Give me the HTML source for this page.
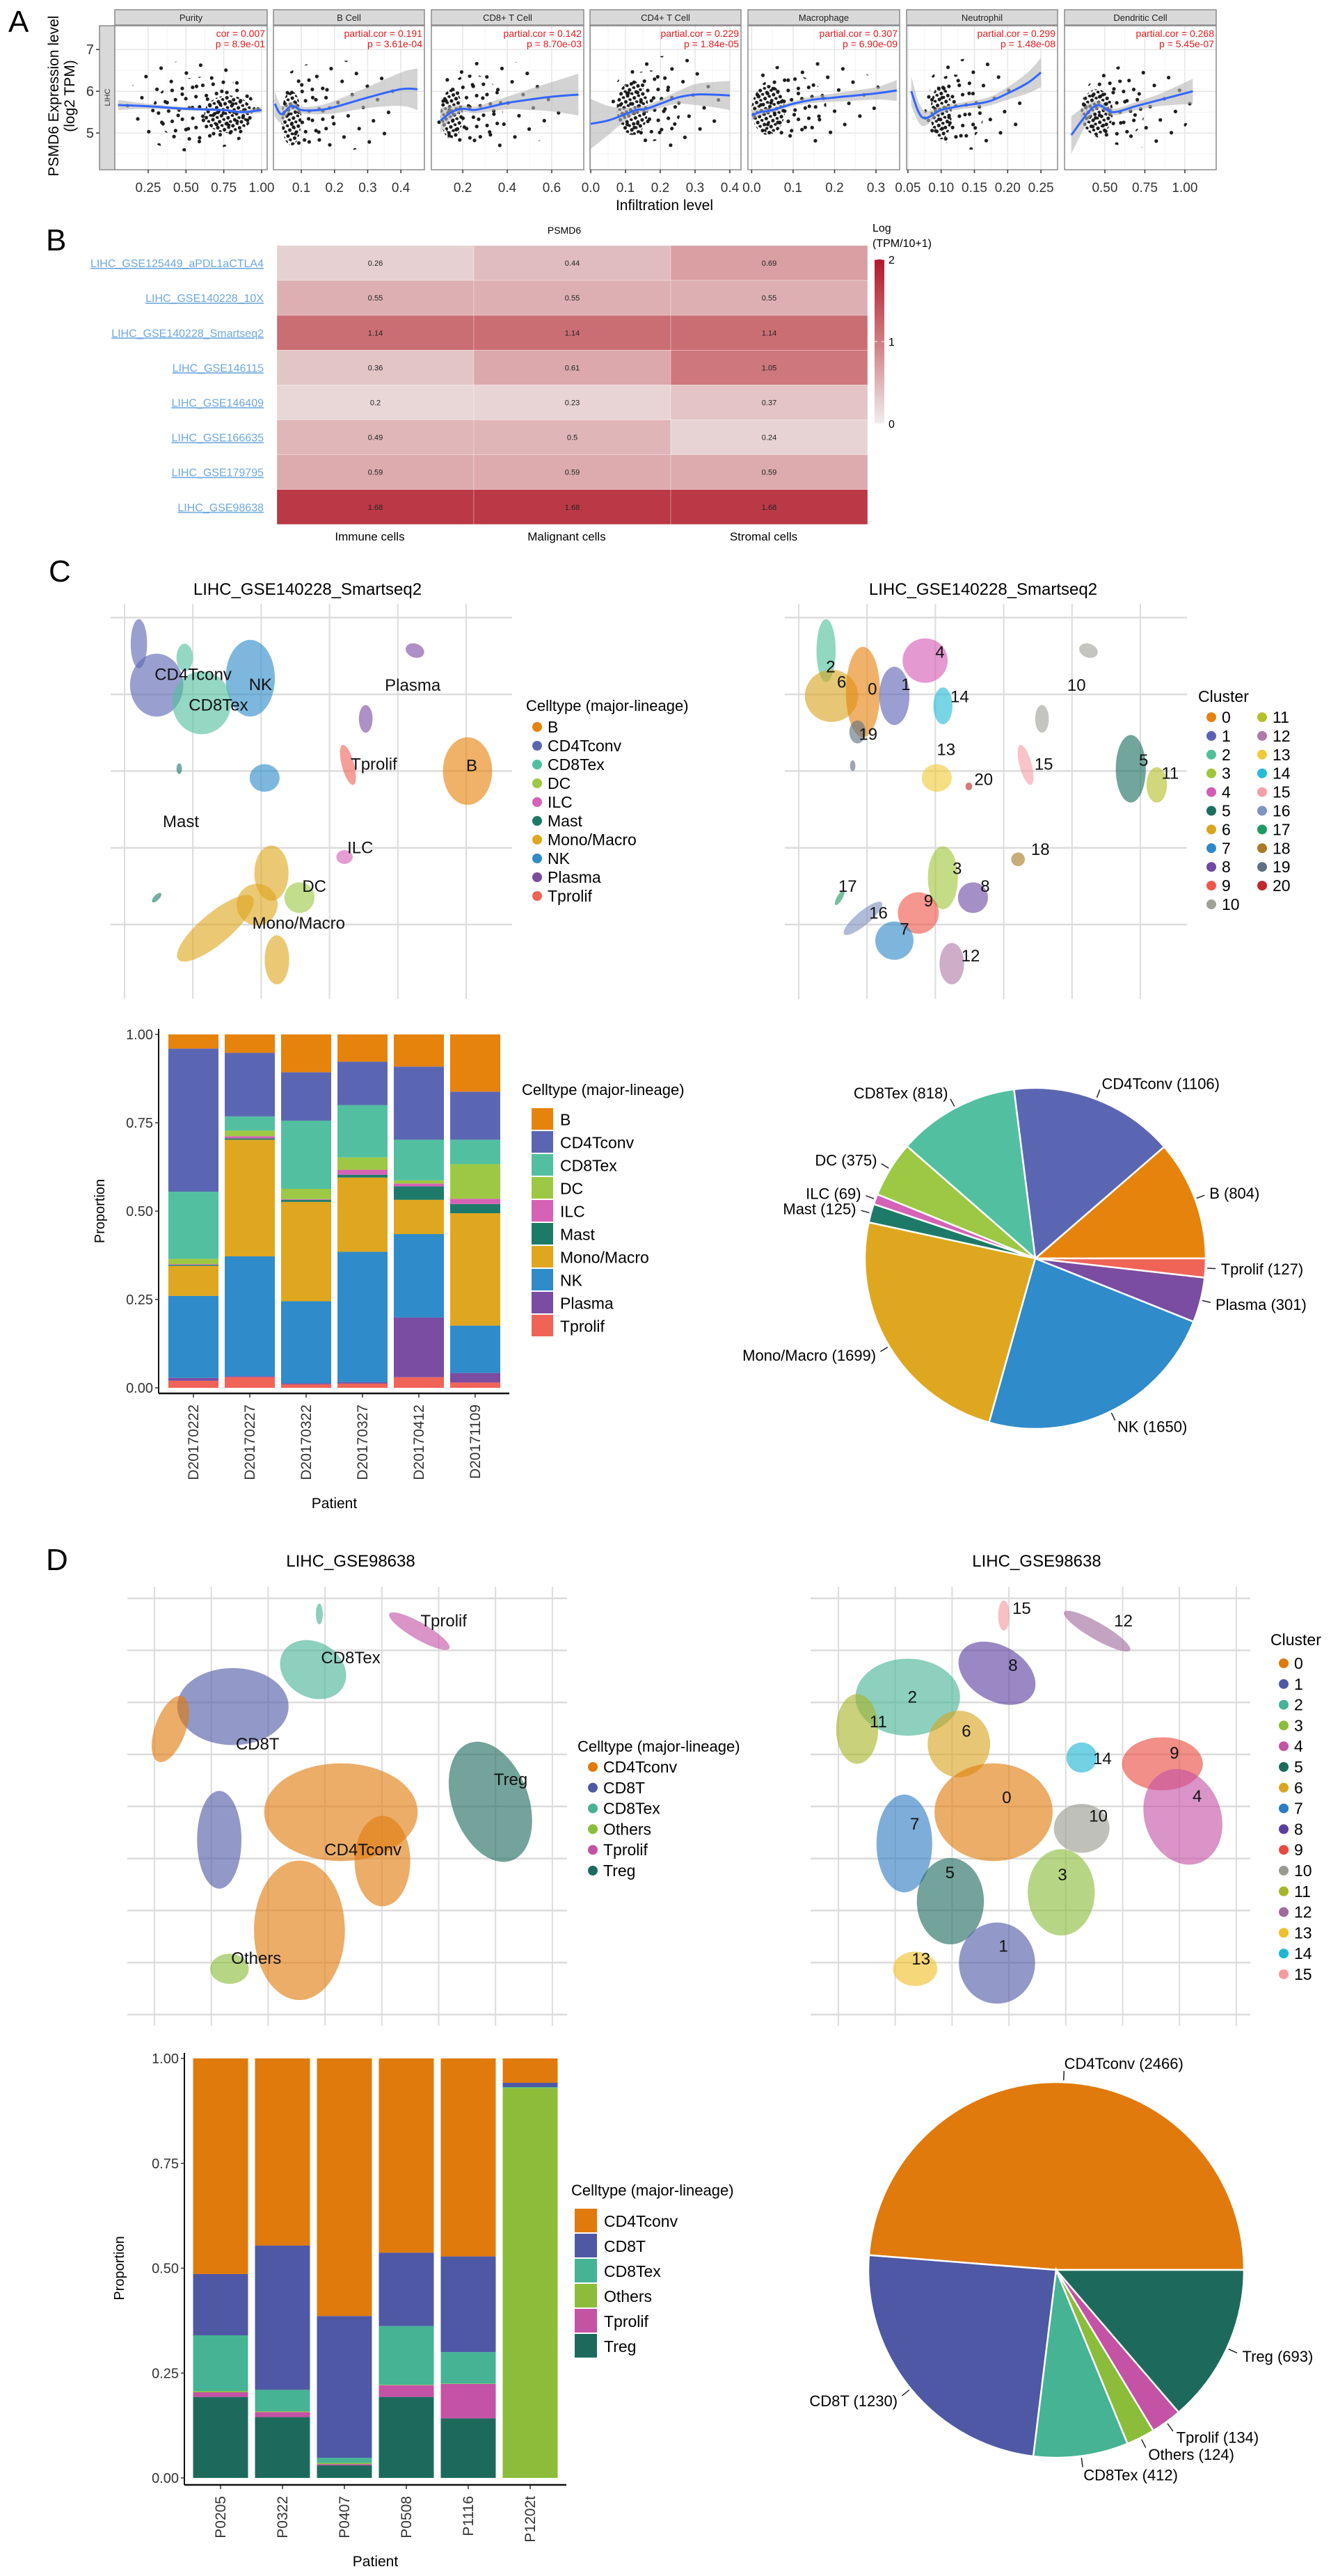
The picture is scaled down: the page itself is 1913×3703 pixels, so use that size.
<!DOCTYPE html>
<html><head><meta charset="utf-8"><title>PSMD6 figure</title>
<style>
html,body{margin:0;padding:0;background:#fff;}
svg{display:block;font-family:"Liberation Sans",Arial,sans-serif;}
</style></head>
<body>
<svg id="fig" width="1913" height="3703" viewBox="0 0 1913 3703" xmlns="http://www.w3.org/2000/svg">
<defs>
<pattern id="dotsDense" width="10" height="9" patternUnits="userSpaceOnUse" patternTransform="rotate(17)"><circle cx="3" cy="3" r="2.6" fill="#1c1c1c"/><circle cx="8" cy="7.5" r="2.4" fill="#1c1c1c"/></pattern>
<pattern id="dotsSparse" width="23" height="19" patternUnits="userSpaceOnUse" patternTransform="rotate(31)"><circle cx="3" cy="3" r="2.6" fill="#1c1c1c"/><circle cx="14" cy="12" r="2.6" fill="#1c1c1c"/></pattern>
<pattern id="dotsFaint" width="37" height="31" patternUnits="userSpaceOnUse" patternTransform="rotate(11)"><circle cx="5" cy="6" r="2.6" fill="#1c1c1c"/><circle cx="24" cy="21" r="2.6" fill="#1c1c1c"/></pattern>
<linearGradient id="hmGrad" x1="0" y1="1" x2="0" y2="0"><stop offset="0" stop-color="#f0eeee"/><stop offset="0.5" stop-color="#cf7c80"/><stop offset="1" stop-color="#b2182b"/></linearGradient>
</defs>
</svg>
<script>
// ---------------- DATA ----------------
// Panel A
const aTitles=['Purity','B Cell','CD8+ T Cell','CD4+ T Cell','Macrophage','Neutrophil','Dendritic Cell'];
const aStat1=['cor = 0.007','partial.cor = 0.191','partial.cor = 0.142','partial.cor = 0.229','partial.cor = 0.307','partial.cor = 0.299','partial.cor = 0.268'];
const aStat2=['p = 8.9e-01','p = 3.61e-04','p = 8.70e-03','p = 1.84e-05','p = 6.90e-09','p = 1.48e-08','p = 5.45e-07'];
const aTickVals=[[0.25,0.5,0.75,1.0],[0.1,0.2,0.3,0.4],[0.2,0.4,0.6],[0.0,0.1,0.2,0.3,0.4],[0.0,0.1,0.2,0.3],[0.05,0.10,0.15,0.20,0.25],[0.50,0.75,1.00]];
const aTickLabels=[['0.25','0.50','0.75','1.00'],['0.1','0.2','0.3','0.4'],['0.2','0.4','0.6'],['0.0','0.1','0.2','0.3','0.4'],['0.0','0.1','0.2','0.3'],['0.05','0.10','0.15','0.20','0.25'],['0.50','0.75','1.00']];
const aDomain=[[0.029,1.037],[0.016,0.471],[0.059,0.744],[-0.002,0.432],[-0.009,0.357],[0.048,0.275],[0.248,1.196]];
const aYTicks=[5,6,7];
const aLoX=[[0.05,0.25,0.5,0.75,0.87,1.0],[0.02,0.04,0.07,0.1,0.15,0.2,0.3,0.4,0.45],[0.1,0.15,0.2,0.25,0.3,0.4,0.5,0.6,0.72],[0.0,0.05,0.1,0.13,0.16,0.2,0.25,0.3,0.35,0.4],[0.0,0.02,0.05,0.1,0.15,0.2,0.3,0.35],[0.055,0.072,0.1,0.13,0.17,0.2,0.23,0.25],[0.29,0.44,0.55,0.7,0.85,1.05]];
const aLoY=[[5.67,5.64,5.58,5.55,5.5,5.55],[5.7,5.45,5.65,5.55,5.55,5.62,5.85,6.05,6.05],[5.3,5.5,5.58,5.55,5.6,5.72,5.8,5.87,5.92],[5.22,5.3,5.45,5.55,5.58,5.7,5.85,5.92,5.92,5.9],[5.42,5.5,5.55,5.7,5.8,5.85,5.95,6.02],[6.0,5.37,5.55,5.65,5.75,5.95,6.2,6.45],[4.95,5.65,5.5,5.65,5.8,6.0]];
const aBand=[[0.12,0.06,0.04,0.03,0.04,0.07],[0.3,0.2,0.1,0.08,0.1,0.15,0.25,0.4,0.5],[0.3,0.15,0.08,0.08,0.1,0.15,0.25,0.35,0.5],[0.6,0.35,0.15,0.08,0.08,0.1,0.15,0.25,0.3,0.35],[0.12,0.08,0.06,0.06,0.08,0.1,0.15,0.25],[0.35,0.2,0.08,0.08,0.1,0.15,0.25,0.35],[0.45,0.12,0.08,0.1,0.15,0.3]];
const aCloudCore=[[0.78,5.45,0.16,0.45],[0.07,5.35,0.03,0.65],[0.15,5.45,0.05,0.6],[0.12,5.6,0.045,0.65],[0.04,5.55,0.04,0.6],[0.1,5.5,0.016,0.65],[0.45,5.5,0.1,0.55]];
const aCloudHalo=[[0.62,5.55,0.34,0.8],[0.12,5.5,0.08,0.85],[0.24,5.55,0.14,0.85],[0.17,5.65,0.09,0.85],[0.09,5.65,0.09,0.75],[0.12,5.55,0.045,0.85],[0.55,5.55,0.2,0.75]];
const aCloudFaint=[[0.55,5.65,0.45,1.1],[0.2,5.65,0.2,1.1],[0.35,5.65,0.3,1.1],[0.22,5.75,0.16,1.1],[0.15,5.75,0.17,1.0],[0.15,5.7,0.08,1.1],[0.7,5.65,0.35,1.0]];

// Panel B heatmap
const hmRows=['LIHC_GSE125449_aPDL1aCTLA4','LIHC_GSE140228_10X','LIHC_GSE140228_Smartseq2','LIHC_GSE146115','LIHC_GSE146409','LIHC_GSE166635','LIHC_GSE179795','LIHC_GSE98638'];
const hmCols=['Immune cells','Malignant cells','Stromal cells'];
const hmVals=[[0.26,0.44,0.69],[0.55,0.55,0.55],[1.14,1.14,1.14],[0.36,0.61,1.05],[0.2,0.23,0.37],[0.49,0.5,0.24],[0.59,0.59,0.59],[1.68,1.68,1.68]];
const hmLabels=[['0.26','0.44','0.69'],['0.55','0.55','0.55'],['1.14','1.14','1.14'],['0.36','0.61','1.05'],['0.2','0.23','0.37'],['0.49','0.5','0.24'],['0.59','0.59','0.59'],['1.68','1.68','1.68']];

// Panel C
const cTypes=['B','CD4Tconv','CD8Tex','DC','ILC','Mast','Mono/Macro','NK','Plasma','Tprolif'];
const cColors=['#e6830c','#5b66b3','#52c0a0','#9dc844','#d562b6','#1e7a68','#dfa71f','#2f8bc9','#7a4ca2','#f06458'];
const cClusterColors=['#e6820e','#5c62b3','#4fbf9a','#9fc63b','#d45bb5','#1b6e5d','#d9a521','#2e87c8','#6e4aa5','#f0574a','#a0a09a','#b5bf2a','#b07aa8','#f0c93a','#26bcd6','#f5a0a8','#7f92c0','#1f9a63','#a87a25','#5f7080','#c0282a'];
const cTypeBlobs=[[0.21,3.66,0.12,0.32,1,0],[0.47,3.12,0.39,0.41,1,0],[1.84,3.21,0.36,0.5,7,0],[1.13,2.89,0.43,0.41,2,0],[0.88,3.48,0.12,0.18,2,0],[2.05,1.91,0.22,0.18,7,0],[0.8,2.03,0.04,0.07,5,0],[0.47,0.35,0.04,0.08,5,-45],[4.25,3.57,0.14,0.09,8,-20],[3.53,2.68,0.1,0.18,8,0],[3.27,2.08,0.09,0.27,9,15],[5.02,2.0,0.36,0.44,0,0],[3.22,0.88,0.12,0.09,4,0],[2.15,0.67,0.25,0.36,6,0],[1.33,-0.05,0.71,0.2,6,40],[2.23,-0.46,0.18,0.32,6,0],[1.94,0.26,0.3,0.27,6,0],[2.56,0.35,0.22,0.2,3,0]];
const cTypeLabelText=['CD4Tconv','NK','CD8Tex','Plasma','Tprolif','B','Mast','ILC','DC','Mono/Macro'];
const cTypeLabelPos=[[0.44,3.26],[1.82,3.13],[0.94,2.86],[3.81,3.12],[3.31,2.09],[5.0,2.07],[0.56,1.34],[3.26,1.0],[2.6,0.5],[1.87,0.02]];
const cClusterBlobs=[[0.4,3.57,0.14,0.41,2,0],[0.48,2.98,0.39,0.34,6,0],[0.94,3.03,0.25,0.59,0,0],[1.4,2.98,0.22,0.38,1,0],[1.85,3.44,0.33,0.29,4,0],[2.11,2.85,0.14,0.24,14,0],[0.86,2.51,0.12,0.15,19,0],[4.24,3.57,0.14,0.09,10,-20],[3.56,2.68,0.1,0.18,10,0],[3.32,2.08,0.09,0.27,15,15],[2.02,1.91,0.22,0.18,13,0],[2.49,1.8,0.05,0.05,20,0],[4.86,2.03,0.22,0.44,5,0],[5.24,1.82,0.15,0.23,11,0],[0.79,2.07,0.04,0.07,19,0],[3.21,0.85,0.1,0.09,18,0],[2.11,0.61,0.22,0.41,3,0],[2.55,0.35,0.22,0.2,8,0],[1.75,0.15,0.3,0.27,9,0],[1.4,-0.21,0.28,0.25,7,0],[0.94,0.08,0.36,0.09,16,40],[0.6,0.35,0.04,0.11,17,-30],[2.24,-0.51,0.18,0.27,12,0]];
const cClusterLabelText=['2','6','0','1','4','14','19','10','13','20','15','5','11','18','3','8','17','9','16','7','12'];
const cClusterLabelPos=[[0.4,3.36],[0.56,3.16],[1.01,3.07],[1.5,3.13],[2.0,3.55],[2.22,2.97],[0.88,2.48],[3.93,3.12],[2.02,2.28],[2.57,1.89],[3.45,2.09],[4.98,2.14],[5.31,1.97],[3.4,0.98],[2.25,0.73],[2.66,0.5],[0.58,0.5],[1.83,0.31],[1.03,0.15],[1.48,-0.06],[2.38,-0.41]];
const cPatients=['D20170222','D20170227','D20170322','D20170327','D20170412','D20171109'];
const cProps=[
 [0.04,0.405,0.19,0.015,0.002,0.003,0.085,0.232,0.008,0.02],
 [0.052,0.18,0.04,0.016,0.006,0.004,0.33,0.339,0.003,0.03],
 [0.107,0.137,0.193,0.029,0.002,0.006,0.281,0.232,0.003,0.01],
 [0.077,0.123,0.148,0.035,0.014,0.008,0.21,0.369,0.004,0.012],
 [0.091,0.207,0.115,0.009,0.008,0.038,0.097,0.236,0.169,0.03],
 [0.162,0.136,0.069,0.098,0.015,0.026,0.318,0.134,0.027,0.015]];
const cYTicks=[0,0.25,0.5,0.75,1];
const cYTickLabels=['0.00','0.25','0.50','0.75','1.00'];
const cPieCounts=[804,1106,818,375,69,125,1699,1650,301,127];

// Panel D
const dTypes=['CD4Tconv','CD8T','CD8Tex','Others','Tprolif','Treg'];
const dColors=['#e07a0d','#4f58a5','#45b394','#8bbd3a','#c452a5','#1d6a5c'];
const dClusterColors=['#e07a0d','#4f58a5','#45b394','#8bbd3a','#c452a5','#1d6a5c','#d9a521','#2e7bc4','#5b3fa0','#e84a3f','#9a9a92','#a8b52a','#a06a9c','#f0c02a','#1ab6d2','#f59aa0'];
const dTypeBlobs=[[1.38,5.92,0.98,0.74,1,0],[0.28,5.49,0.27,0.67,0,-20],[2.79,6.63,0.61,0.53,2,-30],[2.9,7.7,0.06,0.2,2,0],[4.66,7.37,0.61,0.16,4,-30],[5.91,4.09,0.67,1.2,5,20],[1.14,3.36,0.39,0.94,1,0],[3.28,3.89,1.35,0.94,0,0],[2.55,1.62,0.8,1.34,0,0],[4.01,2.95,0.49,0.87,0,0],[1.32,0.88,0.34,0.29,3,0]];
const dTypeLabelText=['Tprolif','CD8Tex','CD8T','Treg','CD4Tconv','Others'];
const dTypeLabelPos=[[4.68,7.57],[2.93,6.86],[1.43,5.2],[5.97,4.52],[2.99,3.17],[1.35,1.08]];
const dClusterBlobs=[[2.91,7.67,0.1,0.29,15,0],[4.55,7.37,0.67,0.16,12,-30],[2.79,6.56,0.73,0.53,8,-30],[1.22,6.1,0.92,0.74,2,0],[0.33,5.49,0.37,0.67,11,0],[2.12,5.2,0.55,0.64,6,0],[4.28,4.94,0.27,0.29,14,0],[5.7,4.82,0.71,0.51,9,0],[6.06,3.8,0.67,0.94,4,20],[2.73,3.89,1.04,0.94,0,0],[4.28,3.58,0.49,0.47,10,0],[1.16,3.29,0.49,0.94,7,0],[3.92,2.35,0.59,0.83,3,0],[1.97,2.18,0.59,0.83,5,0],[2.79,0.99,0.67,0.78,1,0],[1.35,0.88,0.39,0.33,13,0]];
const dClusterLabelText=['15','12','8','2','11','6','14','9','0','10','4','7','3','5','1','13'];
const dClusterLabelPos=[[3.06,7.81],[4.85,7.57],[2.99,6.71],[1.22,6.1],[0.55,5.63],[2.17,5.45],[4.48,4.92],[5.83,5.03],[2.88,4.17],[4.41,3.82],[6.23,4.2],[1.26,3.66],[3.86,2.69],[1.88,2.73],[2.82,1.32],[1.29,1.07]];
const dPatients=['P0205','P0322','P0407','P0508','P1116','P1202t'];
const dProps=[
 [0.514,0.146,0.133,0.003,0.011,0.193],
 [0.446,0.344,0.051,0.002,0.012,0.145],
 [0.614,0.338,0.012,0.003,0.003,0.03],
 [0.463,0.175,0.14,0.001,0.028,0.193],
 [0.472,0.228,0.075,0.001,0.082,0.142],
 [0.058,0.01,0.002,0.93,0.0,0.0]];
const dPieCounts=[2466,1230,412,124,134,693];

// ---------------- HELPERS ----------------
const NS='http://www.w3.org/2000/svg';
const svg=document.getElementById('fig');
const NARROW='"Liberation Sans Narrow","Liberation Sans",Arial,sans-serif';
function mk(tag,attrs,parent){const e=document.createElementNS(NS,tag);for(const k in attrs)e.setAttribute(k,attrs[k]);(parent||svg).appendChild(e);return e;}
function tx(x,y,s,attrs,parent){const e=mk('text',Object.assign({x:x,y:y},attrs||{}),parent);e.textContent=s;return e;}
function lin(d0,d1,r0,r1){return v=>r0+(v-d0)/(d1-d0)*(r1-r0);}
function smooth(pts){let d='M'+pts[0][0]+','+pts[0][1];for(let i=0;i<pts.length-1;i++){const p0=pts[i-1]||pts[i],p1=pts[i],p2=pts[i+1],p3=pts[i+2]||p2;d+=' C'+(p1[0]+(p2[0]-p0[0])/6)+','+(p1[1]+(p2[1]-p0[1])/6)+' '+(p2[0]-(p3[0]-p1[0])/6)+','+(p2[1]-(p3[1]-p1[1])/6)+' '+p2[0]+','+p2[1];}return d;}
function hexMix(a,b,t){const pa=[1,3,5].map(i=>parseInt(a.substr(i,2),16)),pb=[1,3,5].map(i=>parseInt(b.substr(i,2),16));return 'rgb('+pa.map((v,i)=>Math.round(v+(pb[i]-v)*t)).join(',')+')';}
function hmColor(v){return v<=1?hexMix('#f0eeee','#cf7c80',Math.max(0,v)):hexMix('#cf7c80','#b2182b',Math.min(1,v-1));}
let e;

// ---------------- PANEL A ----------------
e=tx(12,46,'A',{'font-size':44});


const aPanelPx=[[165,384],[393,610],[620,839],[848,1065],[1075,1293],[1303,1520],[1530,1748]];
const aTop=37,aBot=244;
const ysA=lin(4.12,7.57,aBot,aTop);
e=mk('rect',{x:143,y:aTop,width:22,height:aBot-aTop,fill:'#d9d9d9',stroke:'#8a8a8a','stroke-width':1.5});


e=tx(0,0,'LIHC',{'font-size':11,'text-anchor':'middle',transform:'translate(158,140) rotate(-90)',fill:'#333'});


aYTicks.forEach(v=>{
  e=mk('line',{x1:138,x2:143,y1:ysA(v),y2:ysA(v),stroke:'#333','stroke-width':1.5});
  
  
  e=tx(135,ysA(v)+7,String(v),{'font-size':20,'text-anchor':'end',fill:'#333'});
  
  
});
e=tx(0,0,'PSMD6 Expression level',{'font-size':21,'text-anchor':'middle',transform:'translate(84,138) rotate(-90)'});


e=tx(0,0,'(log2 TPM)',{'font-size':21,'text-anchor':'middle',transform:'translate(107,138) rotate(-90)'});


e=tx(955,302,'Infiltration level',{'font-size':21,'text-anchor':'middle','font-family':NARROW});


aTitles.forEach((t,i)=>{
  const [p0,p1]=aPanelPx[i];
  const xs=lin(aDomain[i][0],aDomain[i][1],p0,p1);
  const g=mk('g',{});
  
  
  const cp=mk('clipPath',{id:'clipA'+i},g);
  mk('rect',{x:p0,y:aTop,width:p1-p0,height:aBot-aTop},cp);
  e=mk('rect',{x:p0,y:aTop,width:p1-p0,height:aBot-aTop,fill:'#fff'},g);
  
  
  const tv=aTickVals[i];
  for(let k=0;k<tv.length;k++){
    if(k<tv.length-1){const mid=(tv[k]+tv[k+1])/2;mk('line',{x1:xs(mid),x2:xs(mid),y1:aTop,y2:aBot,stroke:'#f3f3f3','stroke-width':1},g);}
    e=mk('line',{x1:xs(tv[k]),x2:xs(tv[k]),y1:aTop,y2:aBot,stroke:'#e6e6e6','stroke-width':1.5},g);
    
    
  }
  [4.5,5.5,6.5].forEach(v=>mk('line',{x1:p0,x2:p1,y1:ysA(v),y2:ysA(v),stroke:'#f3f3f3','stroke-width':1},g));
  aYTicks.forEach(v=>{e=mk('line',{x1:p0,x2:p1,y1:ysA(v),y2:ysA(v),stroke:'#e6e6e6','stroke-width':1.5},g);
    
    });
  const cg=mk('g',{'clip-path':'url(#clipA'+i+')'},g);
  [[aCloudFaint[i],'url(#dotsFaint)'],[aCloudHalo[i],'url(#dotsSparse)'],[aCloudCore[i],'url(#dotsDense)']].forEach(([c,f])=>{
    e=mk('ellipse',{cx:xs(c[0]),cy:ysA(c[1]),rx:Math.abs(xs(c[0]+c[2])-xs(c[0])),ry:Math.abs(ysA(c[1]+c[3])-ysA(c[1])),fill:f},cg);
    
    
  });
  const up=aLoX[i].map((x,k)=>[xs(x),ysA(aLoY[i][k]+aBand[i][k])]);
  const lo=aLoX[i].map((x,k)=>[xs(x),ysA(aLoY[i][k]-aBand[i][k])]).reverse();
  e=mk('path',{d:smooth(up)+' L'+smooth(lo).slice(1)+' Z',fill:'#b5b5b5','fill-opacity':0.6},cg);
  
  
  e=mk('path',{d:smooth(aLoX[i].map((x,k)=>[xs(x),ysA(aLoY[i][k])])),fill:'none',stroke:'#3366ff','stroke-width':3},cg);
  
  
  e=mk('rect',{x:p0,y:aTop,width:p1-p0,height:aBot-aTop,fill:'none',stroke:'#8a8a8a','stroke-width':1.5},g);
  
  
  e=mk('rect',{x:p0,y:14,width:p1-p0,height:22,fill:'#d9d9d9',stroke:'#8a8a8a','stroke-width':1.5},g);
  
  
  e=tx((p0+p1)/2,30,t,{'font-size':13,'text-anchor':'middle',fill:'#222','font-family':NARROW},g);
  
  
  e=tx(p1-3,53,aStat1[i],{'font-size':14,'text-anchor':'end',fill:'#e41a1c','font-family':NARROW},g);
  
  
  e=tx(p1-3,68,aStat2[i],{'font-size':14,'text-anchor':'end',fill:'#e41a1c','font-family':NARROW},g);
  
  
  tv.forEach((v,k)=>{
    e=mk('line',{x1:xs(v),x2:xs(v),y1:aBot,y2:aBot+5,stroke:'#333','stroke-width':1.5},g);
    
    
    e=tx(xs(v),276,aTickLabels[i][k],{'font-size':19,'text-anchor':'middle',fill:'#333','font-family':NARROW},g);
    
    
  });
});

// ---------------- PANEL B ----------------
e=tx(66,360,'B',{'font-size':44});


e=tx(811,336,'PSMD6',{'font-size':14,'text-anchor':'middle'});


const hmX0=398,hmY0=353,hmW=283,hmH=50.1;
hmRows.forEach((r,i)=>{
  e=tx(379,hmY0+hmH*i+hmH/2+6,r,{'font-size':16,'text-anchor':'end',fill:'#6fa8dc','text-decoration':'underline','font-family':NARROW});
  
  
  hmCols.forEach((c,j)=>{
    e=mk('rect',{x:hmX0+hmW*j,y:hmY0+hmH*i,width:hmW,height:hmH,fill:hmColor(hmVals[i][j]),stroke:'#ffffff','stroke-width':0.6,'stroke-opacity':0.5});
    
    
    e=tx(hmX0+hmW*j+hmW/2,hmY0+hmH*i+hmH/2+4,hmLabels[i][j],{'font-size':11,'text-anchor':'middle',fill:'#222'});
    
    
  });
});
hmCols.forEach((c,j)=>{
  e=tx(hmX0+hmW*j+hmW/2-8,777,c,{'font-size':17,'text-anchor':'middle','font-family':NARROW});
  
  
});
e=tx(1254,333,'Log',{'font-size':16});


e=tx(1254,355,'(TPM/10+1)',{'font-size':16,'font-family':NARROW});


e=mk('rect',{x:1257,y:373,width:14,height:236,fill:'url(#hmGrad)'});


const cbTicks=[0,1,2];
cbTicks.forEach(v=>{
  const y=609-v*118;
  mk('line',{x1:1257,x2:1261,y1:y,y2:y,stroke:'#fff','stroke-width':1});
  mk('line',{x1:1267,x2:1271,y1:y,y2:y,stroke:'#fff','stroke-width':1});
  e=tx(1277,y+6,String(v),{'font-size':16});
  
  
});

// ---------------- UMAP helper ----------------
function umap(cfg){
  const xs=lin(0,1,cfg.x0,cfg.x0+cfg.ux), ys=lin(0,1,cfg.y0,cfg.y0-cfg.uy);
  const g=mk('g',{});
  
  
  for(let k=0;k<cfg.nv;k++){
    e=mk('line',{x1:xs(k),x2:xs(k),y1:cfg.gTop,y2:cfg.gBot,stroke:'#dcdcdc','stroke-width':2},g);
    
    
  }
  for(let k=0;k<cfg.nh;k++){
    e=mk('line',{x1:cfg.gL,x2:cfg.gR,y1:ys(k),y2:ys(k),stroke:'#dcdcdc','stroke-width':2.5},g);
    
    
  }
  cfg.blobs.forEach(b=>{
    const cx=xs(b[0]),cy=ys(b[1]);
    e=mk('ellipse',{cx:cx,cy:cy,rx:b[2]*cfg.ux,ry:b[3]*cfg.uy,fill:cfg.colors[b[4]],'fill-opacity':0.62,transform:'rotate('+(-b[5])+' '+cx+' '+cy+')'},g);
    
    
  });
  cfg.labels.forEach((t,k)=>{
    e=tx(xs(cfg.labelPos[k][0]),ys(cfg.labelPos[k][1])+8,t,{'font-size':cfg.fs,fill:'#111','font-family':NARROW},g);
    
    
  });
}

// ---------------- PANEL C ----------------
e=tx(70,836,'C',{'font-size':44});


e=tx(442,855,'LIHC_GSE140228_Smartseq2',{'font-size':24,'text-anchor':'middle','font-family':NARROW});


e=tx(1413,855,'LIHC_GSE140228_Smartseq2',{'font-size':24,'text-anchor':'middle','font-family':NARROW});


umap({name:'umap-celltype-c',x0:179,ux:98.2,y0:1329,uy:110.3,nv:6,nh:5,gTop:868,gBot:1436,gL:159,gR:736,blobs:cTypeBlobs,colors:cColors,labels:cTypeLabelText,labelPos:cTypeLabelPos,fs:24});
umap({name:'umap-cluster-c',x0:1148,ux:98.2,y0:1329,uy:110.3,nv:6,nh:5,gTop:868,gBot:1436,gL:1128,gR:1706,blobs:cClusterBlobs,colors:cClusterColors,labels:cClusterLabelText,labelPos:cClusterLabelPos,fs:24});
e=tx(756,1022,'Celltype (major-lineage)',{'font-size':22,'font-family':NARROW});


cTypes.forEach((t,i)=>{
  const y=1045+27*i;
  e=mk('circle',{cx:772,cy:y,r:7,fill:cColors[i]});
  
  
  e=tx(787,y+8,t,{'font-size':23,'font-family':NARROW});
  
  
});
e=tx(1722,1009,'Cluster',{'font-size':23,'font-family':NARROW});


cClusterColors.forEach((c,i)=>{
  const col=i<11?0:1,row=i<11?i:i-11;
  const y=1031+26.9*row;
  e=mk('circle',{cx:col?1814:1741,cy:y,r:7,fill:c});
  
  
  e=tx(col?1829:1756,y+8,String(i),{'font-size':23,'font-family':NARROW});
  
  
});

// stacked bar helper
function stackBar(cfg){
  const ys=lin(0,1,cfg.y0,cfg.y1);
  const g=mk('g',{});
  
  
  cfg.patients.forEach((p,i)=>{
    const cx=cfg.c0+cfg.step*i;
    let cum=0;
    for(let t=cfg.types.length-1;t>=0;t--){
      const v=cfg.props[i][t];
      if(v<=0) continue;
      e=mk('rect',{x:cx-cfg.bw/2,y:ys(cum+v),width:cfg.bw,height:ys(cum)-ys(cum+v),fill:cfg.colors[t]},g);
      
      
      cum+=v;
    }
    e=mk('line',{x1:cx,x2:cx,y1:cfg.axisY,y2:cfg.axisY+6,stroke:'#333','stroke-width':1.5},g);
    
    
    e=tx(0,0,p,{'font-size':cfg.xfs,'text-anchor':'end',transform:'translate('+(cx+7)+','+(cfg.axisY+16)+') rotate(-90)',fill:'#333'},g);
    
    
  });
  e=mk('line',{x1:cfg.axisX,x2:cfg.axisX,y1:cfg.y1-8,y2:cfg.axisY,stroke:'#111','stroke-width':2},g);
  
  
  e=mk('line',{x1:cfg.axisX,x2:cfg.axisR,y1:cfg.axisY,y2:cfg.axisY,stroke:'#111','stroke-width':2.5},g);
  
  
  cYTicks.forEach((v,k)=>{
    e=mk('line',{x1:cfg.axisX-5,x2:cfg.axisX,y1:ys(v),y2:ys(v),stroke:'#333','stroke-width':1.5},g);
    
    
    e=tx(cfg.axisX-8,ys(v)+7,cYTickLabels[k],{'font-size':20,'text-anchor':'end',fill:'#333','font-family':NARROW},g);
    
    
  });
  e=tx(0,0,'Proportion',{'font-size':20,'text-anchor':'middle',transform:'translate('+cfg.ytX+','+((cfg.y0+cfg.y1)/2)+') rotate(-90)'},g);
  
  
  e=tx(cfg.c0+cfg.step*2.5,cfg.patY,'Patient',{'font-size':21,'text-anchor':'middle','font-family':NARROW},g);
  
  
  e=tx(cfg.lx,cfg.ly,'Celltype (major-lineage)',{'font-size':22,'font-family':NARROW},g);
  
  
  cfg.types.forEach((t,i)=>{
    const y=cfg.ly+19+cfg.lstep*i;
    e=mk('rect',{x:cfg.lx+cfg.kx,y:y,width:cfg.kw,height:cfg.lstep-2,fill:cfg.colors[i]},g);
    
    
    e=tx(cfg.lx+cfg.kx+cfg.kw+10,y+cfg.lstep/2+8,t,{'font-size':23,'font-family':NARROW},g);
    
    
  });
}
stackBar({name:'stacked-bar-c',patients:cPatients,types:cTypes,colors:cColors,props:cProps,y0:1995,y1:1487,c0:278,step:81,bw:72,axisX:228,axisR:732,axisY:2003,xfs:21,ytX:150,patY:2168,lx:750,ly:1574,kx:14,kw:31,lstep:33});

// pie helper
function pie(cfg){
  const total=cfg.counts.reduce((a,b)=>a+b,0);
  const g=mk('g',{});
  
  
  let a0=0;
  cfg.counts.forEach((n,i)=>{
    const a1=a0+n/total*2*Math.PI;
    const x0=cfg.cx+cfg.r*Math.cos(a0),y0=cfg.cy-cfg.r*Math.sin(a0);
    const x1=cfg.cx+cfg.r*Math.cos(a1),y1=cfg.cy-cfg.r*Math.sin(a1);
    const large=(a1-a0)>Math.PI?1:0;
    e=mk('path',{d:'M'+cfg.cx+','+cfg.cy+' L'+x0+','+y0+' A'+cfg.r+','+cfg.r+' 0 '+large+' 0 '+x1+','+y1+' Z',fill:cfg.colors[i],stroke:'#fff','stroke-width':2.5},g);
    
    
    const am=(a0+a1)/2,c=Math.cos(am),s=Math.sin(am);
    e=mk('line',{x1:cfg.cx+cfg.r*1.01*c,y1:cfg.cy-cfg.r*1.01*s,x2:cfg.cx+cfg.r*1.06*c,y2:cfg.cy-cfg.r*1.06*s,stroke:'#222','stroke-width':1.5},g);
    
    
    e=tx(cfg.cx+cfg.r*1.09*c,cfg.cy-cfg.r*1.1*s+8,cfg.labels[i]+' ('+n+')',{'font-size':22,'text-anchor':c>=0?'start':'end','font-family':NARROW},g);
    
    
    a0=a1;
  });
}
pie({name:'pie-chart-c',cx:1488,cy:1809,r:245,counts:cPieCounts,colors:cColors,labels:cTypes});

// ---------------- PANEL D ----------------
e=tx(66,2257,'D',{'font-size':44});


e=tx(504,2252,'LIHC_GSE98638',{'font-size':24,'text-anchor':'middle','font-family':NARROW});


e=tx(1490,2252,'LIHC_GSE98638',{'font-size':24,'text-anchor':'middle','font-family':NARROW});


umap({name:'umap-celltype-d',x0:222,ux:81.7,y0:2896,uy:74.8,nv:8,nh:9,gTop:2281,gBot:2912,gL:183,gR:815,blobs:dTypeBlobs,colors:dColors,labels:dTypeLabelText,labelPos:dTypeLabelPos,fs:24});
umap({name:'umap-cluster-d',x0:1205,ux:81.7,y0:2896,uy:74.8,nv:8,nh:9,gTop:2281,gBot:2912,gL:1165,gR:1797,blobs:dClusterBlobs,colors:dClusterColors,labels:dClusterLabelText,labelPos:dClusterLabelPos,fs:24});
e=tx(830,2518,'Celltype (major-lineage)',{'font-size':22,'font-family':NARROW});


dTypes.forEach((t,i)=>{
  const y=2540+29.8*i;
  e=mk('circle',{cx:852,cy:y,r:7,fill:dColors[i]});
  
  
  e=tx(867,y+8,t,{'font-size':23,'font-family':NARROW});
  
  
});
e=tx(1826,2365,'Cluster',{'font-size':23,'font-family':NARROW});


dClusterColors.forEach((c,i)=>{
  const y=2391+29.8*i;
  e=mk('circle',{cx:1845,cy:y,r:7,fill:c});
  
  
  e=tx(1860,y+8,String(i),{'font-size':23,'font-family':NARROW});
  
  
});
stackBar({name:'stacked-bar-d',patients:dPatients,types:dTypes,colors:dColors,props:dProps,y0:3562,y1:2959,c0:317,step:89,bw:79,axisX:265,axisR:814,axisY:3572,xfs:21,ytX:178,patY:3689,lx:821,ly:3156,kx:5,kw:32,lstep:36});
pie({name:'pie-chart-d',cx:1518,cy:3263,r:270,counts:dPieCounts,colors:dColors,labels:dTypes});
</script>
</body></html>
